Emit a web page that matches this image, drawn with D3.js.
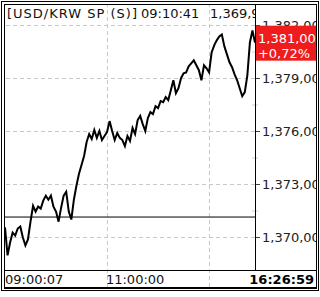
<!DOCTYPE html>
<html>
<head>
<meta charset="utf-8">
<script src="https://cdn.jsdelivr.net/npm/d3@7"></script>
<style>
  body { margin: 0; background: #fff; }
  text { font-family: "DejaVu Sans", sans-serif; }
</style>
</head>
<body>
<svg></svg>
<script>
var width = 320;
var height = 297;

// data (3 minute steps from the open)
var startTime = "09:00:07";
var stepMinutes = 3;
var prices = [
  1370.54, 1368.96, 1369.69, 1370.25, 1370.08, 1370.48, 1370.59, 1369.97, 1369.52, 1369.86,
  1370.87, 1371.77, 1371.44, 1371.72, 1371.61, 1372.06, 1372.34, 1372.11, 1372.34, 1371.72,
  1371.44, 1370.87, 1371.66, 1372.34, 1372.56, 1371.44, 1370.99, 1372.11, 1372.90, 1373.58,
  1374.08, 1374.59, 1375.38, 1375.83, 1375.55, 1376.06, 1375.61, 1376.00, 1375.49, 1375.72,
  1375.94, 1376.56, 1376.00, 1375.49, 1375.89, 1375.61, 1375.49, 1375.15, 1375.72, 1375.44,
  1376.17, 1375.83, 1376.62, 1376.85, 1376.39, 1376.00, 1376.73, 1377.07, 1376.96, 1377.41,
  1377.30, 1377.69, 1377.63, 1377.92, 1377.75, 1378.31, 1378.87, 1378.14, 1378.42, 1378.99,
  1379.27, 1379.32, 1379.66, 1379.83, 1380.00, 1379.72, 1379.44, 1378.87, 1379.72, 1379.55,
  1379.32, 1380.45, 1380.85, 1381.13, 1381.35, 1381.46, 1380.79, 1380.34, 1379.89, 1379.61,
  1379.21, 1378.87, 1378.42, 1377.97, 1378.20, 1379.15, 1381.01, 1381.69, 1381.00
];
var prevClose = 1371.13;
var lastPrice = 1381.00;
var changePct = 0.72;
var yTicks = [1370, 1373, 1376, 1379, 1382];
var yMinorTicks = [1371.5, 1374.5, 1377.5, 1380.5];
var timeGrid = ["11:00:00", "13:00:00"];
var timeLabels = ["09:00:07", "11:00:00"];
var clockLabel = "16:26:59";
var title = "[USD/KRW SP (S)]";
var cursorTime = "09:10:41";
var cursorPrice = 1369.90;

var plotLeft = 4, plotRight = 255, plotTop = 4, plotBottom = 270, frameRight = 316, frameBottom = 287;

var parseTime = d3.timeParse("%H:%M:%S");
var t0 = parseTime(startTime);
var data = prices.map(function (p, i) {
  return { t: d3.timeMinute.offset(t0, i * stepMinutes), v: p };
});

var krw = d3.formatLocale({ decimal: ",", thousands: ",", grouping: [3], currency: ["", ""] });
var fmt = krw.format(",.2f");

var x = d3.scaleTime()
  .domain([t0, data[data.length - 1].t])
  .range([5, 255]);
var y = d3.scaleLinear()
  .domain([1370, 1382])
  .range([237, 25]);

var svg = d3.select("svg").attr("width", width).attr("height", height);

var defs = svg.append("defs");
defs.append("clipPath").attr("id", "plotclip")
  .append("rect").attr("x", plotLeft).attr("y", plotTop)
  .attr("width", plotRight - plotLeft).attr("height", plotBottom - plotTop);
defs.append("clipPath").attr("id", "axisclip")
  .append("rect").attr("x", plotRight).attr("y", plotTop)
  .attr("width", frameRight - plotRight).attr("height", plotBottom - plotTop);

// vertical dashed grid (through title and time row)
svg.append("g")
  .attr("transform", "translate(0," + frameBottom + ")")
  .call(d3.axisBottom(x).tickValues(timeGrid.map(parseTime)).tickSize(-(frameBottom - plotTop)).tickFormat(""))
  .call(function (g) { g.select(".domain").remove(); })
  .selectAll("line").attr("stroke", "#c8c8c8").attr("stroke-dasharray", "4,3");

// horizontal dashed grid
svg.append("g")
  .attr("transform", "translate(" + plotRight + ",0)")
  .call(d3.axisLeft(y).tickValues(yTicks).tickSize(plotRight - plotLeft).tickFormat(""))
  .call(function (g) { g.select(".domain").remove(); })
  .selectAll("line").attr("stroke", "#c8c8c8").attr("stroke-dasharray", "4,3");

// title
var titleText = svg.append("text")
  .attr("clip-path", "url(#plotclip)")
  .attr("x", 7).attr("y", 18)
  .attr("font-size", 13).attr("fill", "#111");
titleText.append("tspan").attr("textLength", 130).attr("lengthAdjust", "spacing").text(title);
titleText.append("tspan").attr("x", 141).text(cursorTime);
titleText.append("tspan").attr("x", 210).text(fmt(cursorPrice));

// previous close line
svg.append("line")
  .attr("x1", plotLeft).attr("x2", plotRight)
  .attr("y1", y(prevClose)).attr("y2", y(prevClose))
  .attr("stroke", "#000").attr("stroke-width", 1);

// price line
var line = d3.line()
  .x(function (d) { return x(d.t); })
  .y(function (d) { return y(d.v); });
svg.append("path")
  .datum(data)
  .attr("clip-path", "url(#plotclip)")
  .attr("d", line)
  .attr("fill", "none")
  .attr("stroke", "#000")
  .attr("stroke-width", 2)
  .attr("stroke-linejoin", "miter");

// right axis
var yAxis = svg.append("g")
  .attr("clip-path", "url(#axisclip)")
  .append("g")
  .attr("transform", "translate(" + plotRight + ",0)")
  .call(d3.axisRight(y).tickValues(yTicks).tickSize(5).tickPadding(2).tickFormat(fmt));
yAxis.select(".domain").remove();
yAxis.selectAll("line").attr("stroke", "#444");
yAxis.selectAll("text").attr("font-size", 13).attr("fill", "#222")
  .style("font-family", "'DejaVu Sans', sans-serif");

svg.append("g")
  .attr("transform", "translate(" + (plotRight + 3) + ",0)")
  .call(d3.axisLeft(y).tickValues(yMinorTicks).tickSize(6).tickFormat(""))
  .call(function (g) { g.select(".domain").remove(); })
  .selectAll("line").attr("stroke", "#d0d0d0");

// last price box
var box = svg.append("g").attr("clip-path", "url(#axisclip)");
box.append("rect")
  .attr("x", plotRight).attr("y", y(lastPrice) - 17)
  .attr("width", frameRight - plotRight).attr("height", 35)
  .attr("fill", "#ee1c1c");
box.append("text")
  .attr("x", 258).attr("y", y(lastPrice) + 0)
  .attr("font-size", 13).attr("fill", "#fff")
  .text(fmt(lastPrice));
box.append("text")
  .attr("x", 284).attr("y", y(lastPrice) + 15)
  .attr("text-anchor", "middle").attr("font-size", 13).attr("fill", "#fff")
  .text("+" + krw.format(".2f")(changePct) + "%");

// frames
svg.append("line").attr("x1", plotRight + 0.5).attr("x2", plotRight + 0.5)
  .attr("y1", plotTop).attr("y2", plotBottom).attr("stroke", "#000");
svg.append("line").attr("x1", plotLeft).attr("x2", frameRight)
  .attr("y1", plotBottom + 0.5).attr("y2", plotBottom + 0.5).attr("stroke", "#000");
svg.append("rect")
  .attr("x", plotLeft + 0.5).attr("y", plotTop + 0.5)
  .attr("width", frameRight - plotLeft).attr("height", frameBottom - plotTop)
  .attr("fill", "none").attr("stroke", "#000");
svg.append("line").attr("x1", plotLeft).attr("x2", frameRight + 1)
  .attr("y1", frameBottom + 1).attr("y2", frameBottom + 1).attr("stroke", "#000").attr("stroke-width", 2);
svg.append("rect")
  .attr("x", 1.5).attr("y", 1.5).attr("width", 317).attr("height", 289)
  .attr("fill", "none").attr("stroke", "#000");

// time labels
svg.selectAll(".tlabel")
  .data(timeLabels)
  .enter().append("text")
  .attr("class", "tlabel")
  .attr("x", function (d) { return Math.max(x(parseTime(d)) - 1, 5); })
  .attr("y", 284)
  .attr("font-size", 13).attr("fill", "#111")
  .text(function (d) { return d; });
svg.append("text")
  .attr("x", 314).attr("y", 284)
  .attr("text-anchor", "end")
  .attr("font-size", 13).attr("font-weight", "bold").attr("fill", "#000")
  .text(clockLabel);
</script>
</body>
</html>
